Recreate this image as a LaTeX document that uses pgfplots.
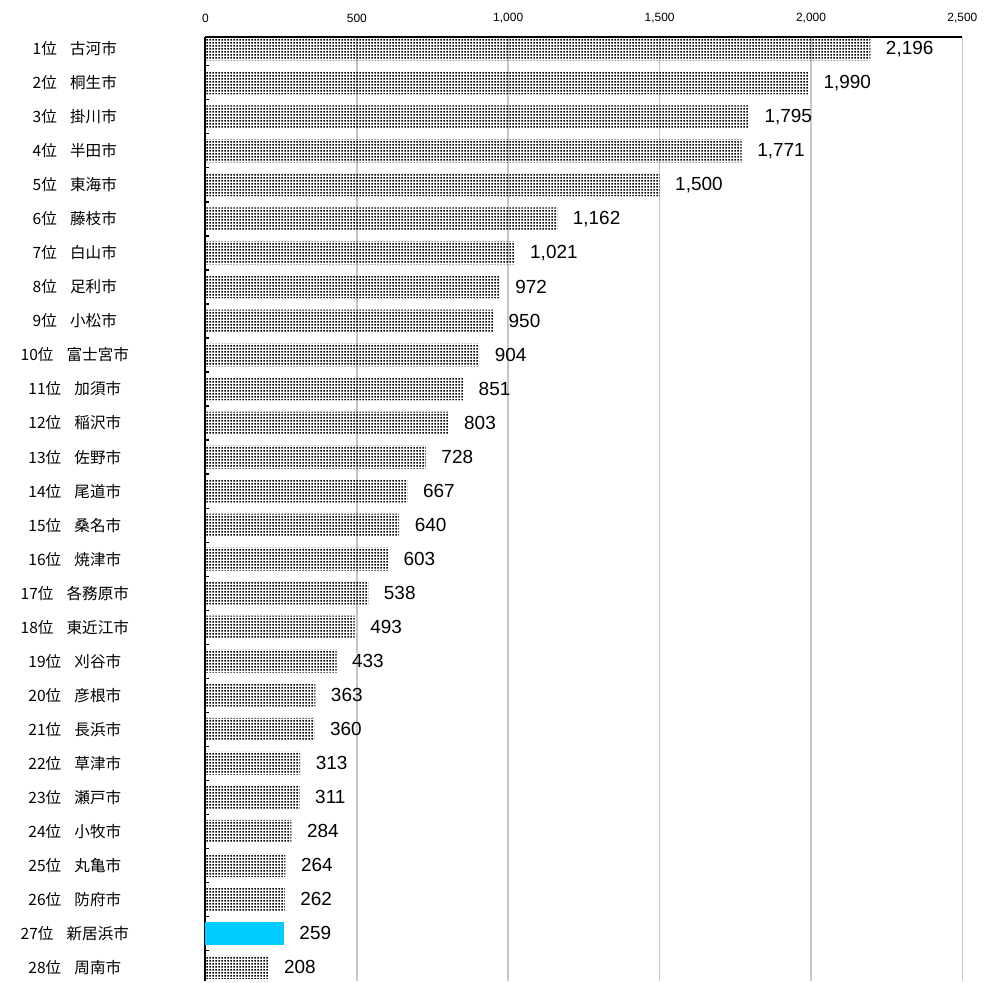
\documentclass[border=0pt]{standalone}
\usepackage{pgfplots}
\pgfplotsset{compat=1.18}
\usepackage{pgfplotstable}
\usetikzlibrary{patterns.meta}
\usepackage{fontspec}
\setmainfont{Liberation Sans}
\newfontfamily\jp{Noto Sans CJK JP}
\definecolor{hl}{HTML}{00CCFF}

\pgfdeclarepattern{
  name=fdots,
  type=uncolored,
  bottom left={\pgfpoint{0pt}{0pt}},
  top right={\pgfpoint{1.5pt}{1.5pt}},
  tile size={\pgfpoint{1.5pt}{1.5pt}},
  code={\pgfpathrectangle{\pgfpoint{0.2pt}{0.2pt}}{\pgfpoint{0.8pt}{0.8pt}}\pgfusepath{fill}}
}

% rank  value  (27 = 新居浜市 drawn separately)
\pgfplotstableread{
idx value
1  2196
2  1990
3  1795
4  1771
5  1500
6  1162
7  1021
8  972
9  950
10 904
11 851
12 803
13 728
14 667
15 640
16 603
17 538
18 493
19 433
20 363
21 360
22 313
23 311
24 284
25 264
26 262
28 208
}\ranking

\newcommand{\rk}[2]{#1位\hspace{0.85em}#2}

\begin{document}
\begin{tikzpicture}
\begin{axis}[
  scale only axis,
  width=379.5pt, height=473.5pt,
  xbar, bar width=11.5pt, bar shift=0pt,
  xmin=0, xmax=2500,
  ymin=0.65, ymax=28.41,
  y dir=reverse,
  axis x line*=top, axis y line*=left,
  axis line style={black, line width=1pt},
  tick align=inside,
  xtick={0,500,...,2500},
  xtick style={draw=none},
  xmajorgrids,
  grid style={gray!45, line width=0.8pt},
  xticklabel style={font=\fontsize{6}{7}\selectfont, yshift=3.5pt},
  /pgf/number format/.cd, 1000 sep={,}, assume math mode=true,
  /pgfplots/.cd,
  ytick={1,...,28},
  major y tick style={draw=none},
  minor ytick={1.5,2.5,...,27.5},
  minor tick length=2pt,
  minor y tick style={black, line width=0.6pt},
  yticklabels={
    \rk{1}{古河市}, \rk{2}{桐生市}, \rk{3}{掛川市}, \rk{4}{半田市},
    \rk{5}{東海市}, \rk{6}{藤枝市}, \rk{7}{白山市}, \rk{8}{足利市},
    \rk{9}{小松市}, \rk{10}{富士宮市}, \rk{11}{加須市}, \rk{12}{稲沢市},
    \rk{13}{佐野市}, \rk{14}{尾道市}, \rk{15}{桑名市}, \rk{16}{焼津市},
    \rk{17}{各務原市}, \rk{18}{東近江市}, \rk{19}{刈谷市}, \rk{20}{彦根市},
    \rk{21}{長浜市}, \rk{22}{草津市}, \rk{23}{瀬戸市}, \rk{24}{小牧市},
    \rk{25}{丸亀市}, \rk{26}{防府市}, \rk{27}{新居浜市}, \rk{28}{周南市}},
  yticklabel style={font=\jp\fontsize{7.8}{9}\selectfont, anchor=center, xshift=-65.5pt},
  nodes near coords,
  every node near coord/.append style={font=\fontsize{9.5}{11}\selectfont, anchor=west, xshift=4.3pt, text=black},
  clip=false,
]
\addplot[draw=none, pattern=fdots, pattern color=black] table[x=value, y=idx] {\ranking};
\addplot[draw=none, fill=hl] coordinates {(259,27)};
\end{axis}
\useasboundingbox (-103pt,0pt) rectangle (388.5pt,492pt);
\end{tikzpicture}
\end{document}
